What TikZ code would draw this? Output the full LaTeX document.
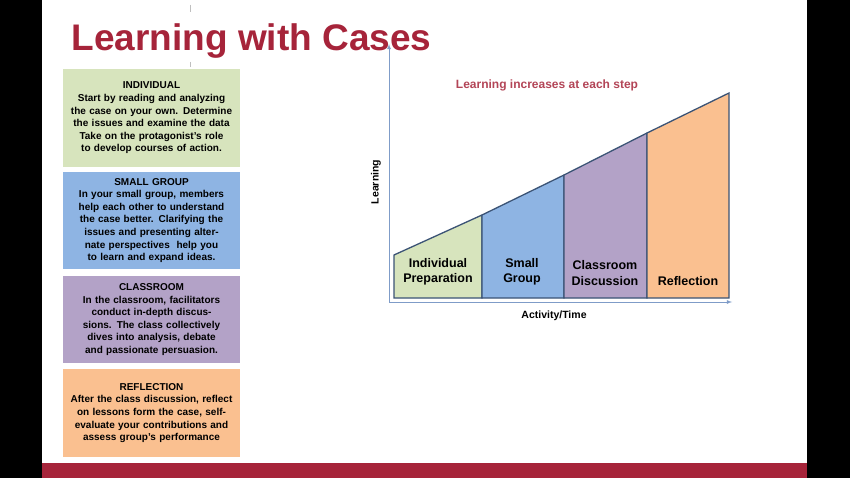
\documentclass[tikz,border=0pt]{standalone}
\usepackage{fontspec}
\setmainfont{Liberation Sans}
\usetikzlibrary{positioning,calc}
\definecolor{titlered}{HTML}{A6243A}
\definecolor{gfill}{HTML}{D7E4BD}
\definecolor{bfill}{HTML}{8EB4E3}
\definecolor{pfill}{HTML}{B3A2C7}
\definecolor{ofill}{HTML}{FAC090}
\definecolor{axisblue}{HTML}{7F9CC8}
\definecolor{edgeblue}{HTML}{3B5375}
\begin{document}
\begin{tikzpicture}[x=1pt, y=-1pt,
    info/.style={rectangle, draw=white, line width=1pt, text width=172pt, align=center, inner sep=3pt, font=\bfseries\fontsize{10}{12.6}\selectfont, anchor=north west},
    stage/.style={draw=edgeblue, line width=1.3pt},
    stagelabel/.style={align=center, font=\bfseries\fontsize{12.5}{15.5}\selectfont},
    axis/.style={->, >=latex, axisblue, line width=0.8pt}]

    % Background
    \useasboundingbox (0,0) rectangle (850,478);
    \fill[black] (0,0) rectangle (850,478);
    \fill[white] (42,0) rectangle (807,478);
    \fill[titlered] (42,463) rectangle (807,478);
    \draw[gray!50] (190,5) -- (190,12);
    \draw[gray!50] (190,62) -- (190,67);

    % Title
    \node[anchor=west, text=titlered, font=\bfseries\fontsize{37}{40}\selectfont] (title) at (68,41) {Learning with Cases};

    % Left boxes
    \node[info, fill=gfill, minimum height=99pt] (individual) at (62,68) {INDIVIDUAL\\Start by reading and analyzing the case on your own. Determine the issues and examine the data Take on the protagonist's role to develop courses of action.};
    \node[info, fill=bfill, minimum height=98pt] (smallgroup) at (62,171) {SMALL GROUP\\In your small group, members help each other to understand the case better. Clarifying the issues and presenting alternate perspectives\ \ help you to learn and expand ideas.};
    \node[info, fill=pfill, minimum height=88pt] (classroom) at (62,275) {CLASSROOM\\In the classroom, facilitators conduct in-depth discussions. The class collectively dives into analysis, debate and passionate persuasion.};
    \node[info, fill=ofill, minimum height=89pt] (reflection) at (62,368) {REFLECTION\\After the class discussion, reflect on lessons form the case, self-evaluate your contributions and assess group's performance};

    % Axes
    \coordinate (origin) at (389,302);
    \coordinate (ytop) at (389,44);
    \coordinate (xend) at (732,302);
    \draw[axis] (origin) -- (ytop);
    \draw[axis] (origin) -- (xend);
    \node[rotate=90, font=\bfseries\fontsize{10.5}{12}\selectfont] (ylabel) at (376,182) {Learning};
    \node[font=\bfseries\fontsize{10.5}{12}\selectfont] (xlabel) at (554,316) {Activity/Time};
    \node[text=titlered!85, font=\bfseries\fontsize{12}{14}\selectfont] (headline) at (547,85) {Learning increases at each step};

    % Stages
    \filldraw[stage, fill=gfill] (394,298) -- (394,255) -- (482,215) -- (482,298) -- cycle;
    \filldraw[stage, fill=bfill] (482,298) -- (482,215) -- (564,175) -- (564,298) -- cycle;
    \filldraw[stage, fill=pfill] (564,298) -- (564,175) -- (647,133) -- (647,298) -- cycle;
    \filldraw[stage, fill=ofill] (647,298) -- (647,133) -- (729,93) -- (729,298) -- cycle;
    \node[stagelabel] (prep) at (438,272) {Individual\\Preparation};
    \node[stagelabel] (group) at (522,272) {Small\\Group};
    \node[stagelabel] (discuss) at (605,273) {Classroom\\Discussion};
    \node[stagelabel] (reflect) at (688,281) {Reflection};

\end{tikzpicture}
\end{document}
